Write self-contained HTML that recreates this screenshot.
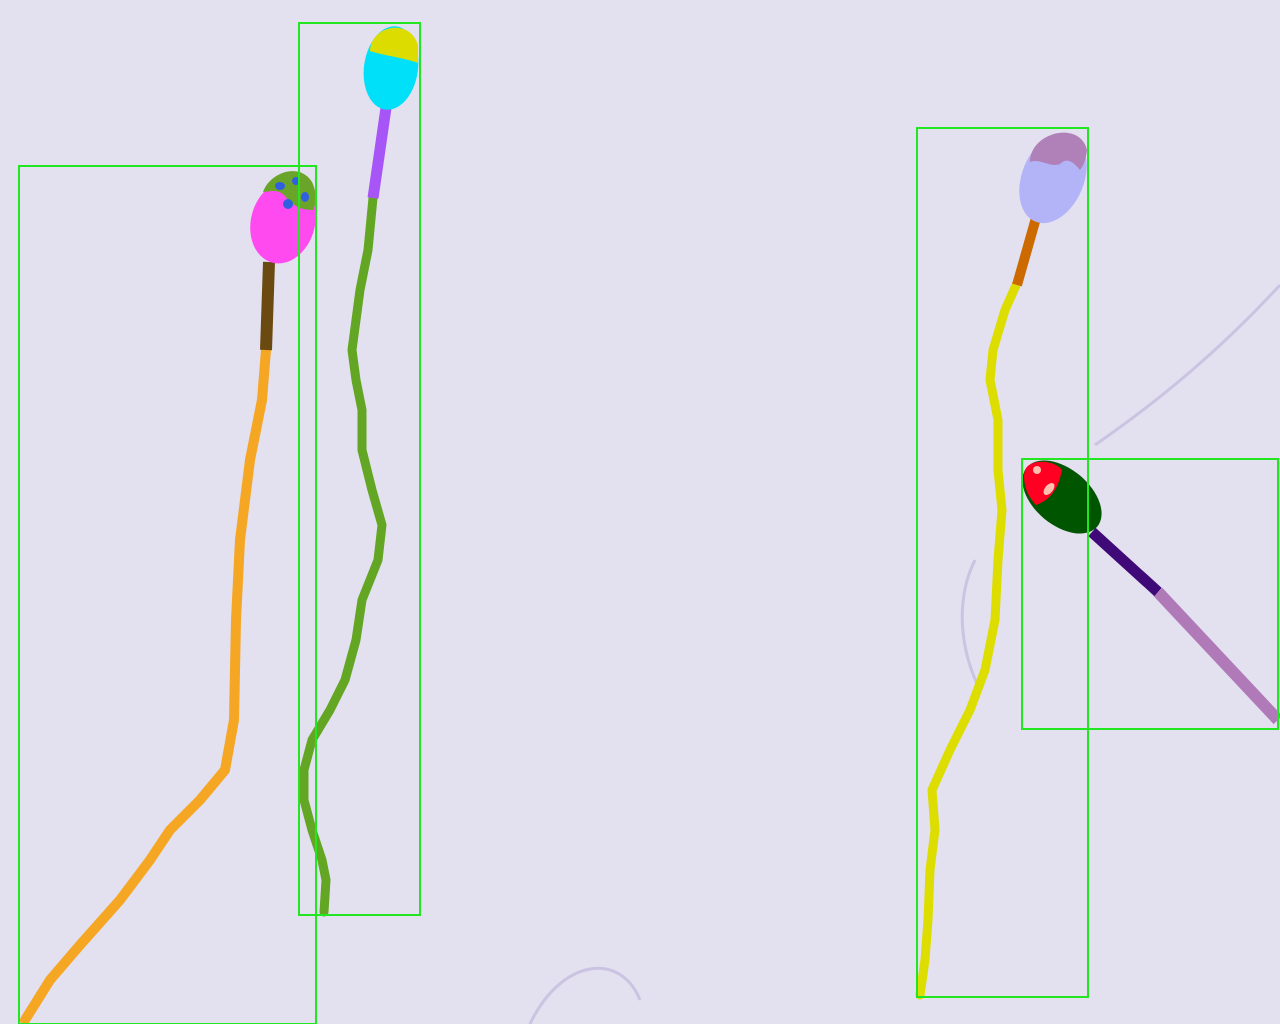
<!DOCTYPE html>
<html><head><meta charset="utf-8"><style>html,body{margin:0;padding:0;background:#e3e0ef;}svg{display:block}</style></head>
<body>
<svg width="1280" height="1024" viewBox="0 0 1280 1024">
<rect width="1280" height="1024" fill="#e3e0ef"/>
<path d="M1095,445 C1160,400 1220,350 1280,285" stroke="#cbc3e2" stroke-width="3" fill="none"/>
<path d="M975,560 C955,600 960,650 980,690" stroke="#cbc3e2" stroke-width="3" fill="none"/>
<path d="M530,1024 C560,960 620,950 640,1000" stroke="#cbc3e2" stroke-width="3" fill="none"/>
<g fill="none" stroke-linecap="round" stroke-linejoin="round">
<!-- sperm 1 -->
<path d="M266,350 L262,400 L250,460 L240,540 L236,620 L234,720 L225,770 L200,800 L170,830 L150,860 L120,900 L80,945 L50,980 L25,1020" stroke="#f5a623" stroke-width="10"/>
<path d="M269,262 L266,350" stroke="#6b4a12" stroke-width="12" stroke-linecap="butt"/>
<!-- sperm 2 -->
<path d="M373,198 L368,250 L360,290 L352,350 L356,380 L362,410 L362,450 L372,490 L382,525 L378,560 L362,600 L356,640 L345,680 L330,710 L312,740 L304,770 L304,800 L312,830 L322,860 L326,880 L324,912" stroke="#62a623" stroke-width="9"/>
<path d="M386,108 L373,198" stroke="#a855f7" stroke-width="11" stroke-linecap="butt"/>
<!-- sperm 3 -->
<path d="M1017,283 L1005,310 L993,350 L990,380 L998,420 L998,470 L1002,510 L998,560 L995,620 L985,670 L970,710 L950,750 L932,790 L935,830 L930,870 L928,920 L925,960 L920,995" stroke="#dddd00" stroke-width="9"/>
<path d="M1036,218 L1017,285" stroke="#cc6a00" stroke-width="10" stroke-linecap="butt"/>
<!-- sperm 4 -->
<path d="M1158,592 L1278,720" stroke="#b07ab8" stroke-width="12" stroke-linecap="butt"/>
<path d="M1092,532 L1158,592" stroke="#3f0a78" stroke-width="11" stroke-linecap="butt"/>
</g>
<!-- heads -->
<g>
<ellipse cx="283" cy="222" rx="32" ry="42" transform="rotate(15 283 222)" fill="#ff4af0"/>
<path d="M263,192 C270,172 300,162 312,182 C318,195 316,205 313,210 C300,210 292,205 285,196 C278,188 268,192 263,192 Z" fill="#6aa428"/>
<ellipse cx="280" cy="186" rx="5" ry="4" fill="#3060e0"/><ellipse cx="296" cy="181" rx="4" ry="4" fill="#3060e0"/><ellipse cx="288" cy="204" rx="5" ry="5" fill="#3060e0"/><ellipse cx="305" cy="197" rx="4" ry="5" fill="#3060e0"/>
</g>
<g>
<ellipse cx="391" cy="68" rx="27" ry="42" transform="rotate(8 391 68)" fill="#00e0f8"/>
<path d="M370,50 C372,25 410,18 418,45 L418,63 C405,58 385,56 370,51 Z" fill="#dcdc00"/>
</g>
<g>
<ellipse cx="1053" cy="178" rx="31" ry="47" transform="rotate(22 1053 178)" fill="#b3b3f8"/>
<path d="M1030,162 C1030,132 1080,120 1087,150 C1086,158 1084,165 1080,170 C1072,160 1066,158 1060,164 C1050,168 1040,158 1030,162 Z" fill="#b080b8"/>
</g>
<g>
<ellipse cx="1062" cy="497" rx="46" ry="28" transform="rotate(40 1062 497)" fill="#005500"/>
<path d="M1025,470 C1030,458 1055,460 1062,470 C1058,490 1050,500 1036,505 C1026,495 1022,480 1025,470 Z" fill="#ff0022"/>
<ellipse cx="1037" cy="470" rx="4" ry="4" fill="#ffc0b0"/><ellipse cx="1049" cy="489" rx="4" ry="7" transform="rotate(40 1049 489)" fill="#ffc0b0"/>
</g>
<g fill="none" stroke="#22e622" stroke-width="2">
<rect x="19" y="166" width="297" height="858"/>
<rect x="299" y="23" width="121" height="892"/>
<rect x="917" y="128" width="171" height="869"/>
<rect x="1022" y="459" width="256" height="270"/>
</g>
</svg>
</body></html>
